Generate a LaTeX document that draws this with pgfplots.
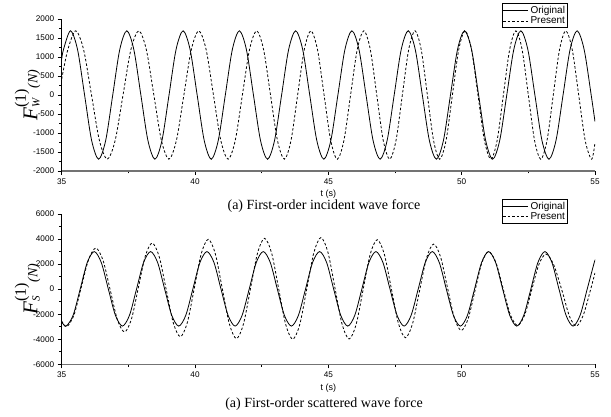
\documentclass[border=0pt]{standalone}
\usepackage{pgfplots}
\pgfplotsset{compat=1.18}
\usepackage{fontspec}
\setmainfont{Liberation Sans}
\newfontfamily\serif{Liberation Serif}

\pgfplotsset{
  waveaxis/.style={
    scale only axis,
    width=533.3pt,
    xmin=35, xmax=55,
    axis x line*=bottom, axis y line*=left,
    x axis line style={black!55, line width=1.3pt},
    y axis line style={black, line width=0.6pt},
    tick align=outside,
    xtick={35,40,...,55},
    minor x tick num=1, minor y tick num=1,
    major tick length=4pt, minor tick length=2.3pt,
    tick style={black, line width=0.6pt},
    tick label style={font=\fontsize{8.2}{9}\selectfont},
    /pgf/number format/assume math mode=true,
    /pgf/number format/1000 sep={},
    xlabel={t (s)},
    xlabel style={font=\fontsize{9}{10}\selectfont, anchor=north},
    ylabel style={anchor=center},
    legend style={anchor=north east, draw=black, line width=0.6pt,
      font=\fontsize{10}{11}\selectfont, inner sep=0.5pt, row sep=-2pt,
      cells={anchor=west}},
    legend image code/.code={\draw[#1] (0pt,0pt) -- (25pt,0pt);},
  },
  orig/.style={black, line width=0.8pt, smooth, no markers},
  pres/.style={black, line width=0.8pt, smooth, no markers, dash pattern=on 2.5pt off 2pt},
}

\newcommand{\flabel}[1]{$\mbox{\serif\itshape\fontsize{21}{21}\selectfont F}^{\mbox{\serif\fontsize{16}{16}\selectfont (1)}}_{\mbox{\serif\itshape\fontsize{11}{11}\selectfont #1}}\mbox{\serif\itshape\fontsize{14}{14}\selectfont (N)}$}

\begin{document}
\begin{tikzpicture}
\path[use as bounding box] (0,0) rectangle (611pt,417pt);

% (a) incident wave force
\begin{axis}[waveaxis,
  at={(61.7pt,246pt)}, anchor=south west,
  height=152pt,
  ymin=-2000, ymax=2000,
  ytick={-2000,-1500,...,2000},
  xlabel style={at={(axis description cs:0.5,-0.1)}},
  ylabel={\flabel{W}},
  ylabel style={at={(axis description cs:-0.064,0.5)}},
  legend style={at={(axis description cs:0.949,1.103)}},
]
\addplot[orig] coordinates {
(35.000,940) (35.066,1195) (35.330,1690) (35.594,1195) (35.858,0) (36.122,-1195)
(36.386,-1690) (36.650,-1195) (36.914,0) (37.177,1195) (37.441,1690) (37.705,1195)
(37.969,0) (38.233,-1195) (38.497,-1690) (38.761,-1195) (39.025,0) (39.288,1195)
(39.552,1690) (39.816,1195) (40.080,0) (40.344,-1195) (40.608,-1690) (40.872,-1195)
(41.136,0) (41.399,1195) (41.663,1690) (41.927,1195) (42.191,0) (42.455,-1195)
(42.719,-1690) (42.983,-1195) (43.247,0) (43.510,1195) (43.774,1690) (44.038,1195)
(44.302,0) (44.566,-1195) (44.830,-1690) (45.094,-1195) (45.358,0) (45.621,1195)
(45.885,1690) (46.149,1195) (46.413,0) (46.677,-1195) (46.941,-1690) (47.205,-1195)
(47.469,0) (47.732,1195) (47.996,1690) (48.260,1195) (48.524,0) (48.788,-1195)
(49.052,-1690) (49.316,-1195) (49.580,0) (49.843,1195) (50.107,1690) (50.371,1195)
(50.635,0) (50.899,-1195) (51.163,-1690) (51.427,-1195) (51.691,0) (51.954,1195)
(52.218,1690) (52.482,1195) (52.746,0) (53.010,-1195) (53.274,-1690) (53.538,-1195)
(53.802,0) (54.065,1195) (54.329,1690) (54.593,1195) (54.857,0) (55.000,-700)
};
\addlegendentry{Original}
\addplot[pres] coordinates {
(35.000,420) (35.230,1195) (35.525,1690) (35.821,1195) (36.118,0) (36.414,-1195)
(36.710,-1690) (37.005,-1195) (37.300,0) (37.595,1195) (37.890,1690) (38.173,1195)
(38.456,0) (38.739,-1195) (39.022,-1690) (39.302,-1195) (39.582,0) (39.861,1195)
(40.141,1690) (40.416,1195) (40.691,0) (40.966,-1195) (41.241,-1690) (41.509,-1195)
(41.776,0) (42.044,1195) (42.311,1690) (42.571,1195) (42.831,0) (43.091,-1195)
(43.351,-1690) (43.600,-1195) (43.848,0) (44.097,1195) (44.345,1690) (44.593,1195)
(44.840,0) (45.088,-1195) (45.335,-1690) (45.584,-1195) (45.834,0) (46.083,1195)
(46.332,1690) (46.574,1195) (46.816,0) (47.058,-1195) (47.300,-1690) (47.538,-1195)
(47.775,0) (48.013,1195) (48.250,1690) (48.482,1195) (48.714,0) (48.945,-1195)
(49.177,-1690) (49.415,-1195) (49.652,0) (49.890,1195) (50.127,1690) (50.369,1195)
(50.611,0) (50.853,-1195) (51.095,-1690) (51.330,-1195) (51.564,0) (51.799,1195)
(52.033,1690) (52.266,1195) (52.500,0) (52.733,-1195) (52.966,-1690) (53.201,-1195)
(53.435,0) (53.670,1195) (53.904,1690) (54.146,1195) (54.389,0) (54.631,-1195)
(54.873,-1690) (55.000,-1250)
};
\addlegendentry{Present}
\end{axis}

% (b) scattered wave force
\begin{axis}[waveaxis,
  at={(61.7pt,52.7pt)}, anchor=south west,
  height=150.3pt,
  ymin=-6000, ymax=6000,
  ytick={-6000,-4000,...,6000},
  xlabel style={at={(axis description cs:0.5,-0.105)}},
  ylabel={\flabel{S}},
  ylabel style={at={(axis description cs:-0.064,0.5)}},
  legend style={at={(axis description cs:0.949,1.10)}},
]
\addplot[orig] coordinates {
(35.000,-2600) (35.165,-2950) (35.429,-2086) (35.693,0) (35.957,2121) (36.221,3000)
(36.485,2121) (36.750,0) (37.014,-2086) (37.278,-2950) (37.542,-2086) (37.806,0)
(38.070,2121) (38.334,3000) (38.598,2121) (38.862,0) (39.126,-2086) (39.390,-2950)
(39.654,-2086) (39.918,0) (40.183,2121) (40.447,3000) (40.711,2121) (40.975,0)
(41.239,-2086) (41.503,-2950) (41.767,-2086) (42.031,0) (42.295,2121) (42.559,3000)
(42.823,2121) (43.087,0) (43.351,-2086) (43.615,-2950) (43.879,-2086) (44.144,0)
(44.408,2121) (44.672,3000) (44.936,2121) (45.200,0) (45.464,-2086) (45.728,-2950)
(45.992,-2086) (46.256,0) (46.520,2121) (46.784,3000) (47.048,2121) (47.313,0)
(47.577,-2086) (47.841,-2950) (48.105,-2086) (48.369,0) (48.633,2121) (48.897,3000)
(49.161,2121) (49.425,0) (49.689,-2086) (49.953,-2950) (50.217,-2086) (50.482,0)
(50.746,2121) (51.010,3000) (51.274,2121) (51.538,0) (51.802,-2086) (52.066,-2950)
(52.330,-2086) (52.594,0) (52.858,2121) (53.122,3000) (53.386,2121) (53.650,0)
(53.914,-2086) (54.178,-2950) (54.442,-2086) (54.707,0) (54.971,2121) (55.000,2250)
};
\addlegendentry{Original}
\addplot[pres] coordinates {
(35.000,-2550) (35.185,-3000) (35.459,-2080) (35.733,140) (36.007,2360) (36.281,3280)
(36.550,2300) (36.820,-70) (37.089,-2440) (37.358,-3420) (37.617,-2380) (37.876,130)
(38.135,2640) (38.394,3680) (38.658,2580) (38.922,-60) (39.186,-2700) (39.450,-3800)
(39.712,-2660) (39.974,90) (40.235,2840) (40.497,3980) (40.761,2820) (41.025,15)
(41.289,-2790) (41.553,-3950) (41.817,-2780) (42.081,55) (42.345,2890) (42.609,4060)
(42.873,2880) (43.137,30) (43.401,-2820) (43.665,-4000) (43.929,-2810) (44.194,60)
(44.458,2930) (44.722,4120) (44.986,2930) (45.250,70) (45.514,-2790) (45.778,-3980)
(46.042,-2820) (46.306,-15) (46.570,2790) (46.834,3950) (47.098,2800) (47.363,35)
(47.627,-2730) (47.891,-3880) (48.155,-2780) (48.419,-140) (48.683,2500) (48.947,3600)
(49.206,2590) (49.465,150) (49.724,-2290) (49.983,-3300) (50.240,-2380) (50.497,-150)
(50.753,2080) (51.010,3000) (51.282,2140) (51.553,50) (51.825,-2040) (52.096,-2900)
(52.362,-2065) (52.628,-50) (52.894,1965) (53.160,2800) (53.450,1950) (53.760,-100)
(54.040,-2150) (54.300,-2950) (54.560,-2080) (54.820,-150) (55.000,1300)
};
\addlegendentry{Present}
\end{axis}

\node[font=\serif\fontsize{14}{16}\selectfont] at (324pt,211pt) {(a) First-order incident wave force};
\node[font=\serif\fontsize{14}{16}\selectfont] at (324pt,13pt) {(a) First-order scattered wave force};
\end{tikzpicture}
\end{document}
